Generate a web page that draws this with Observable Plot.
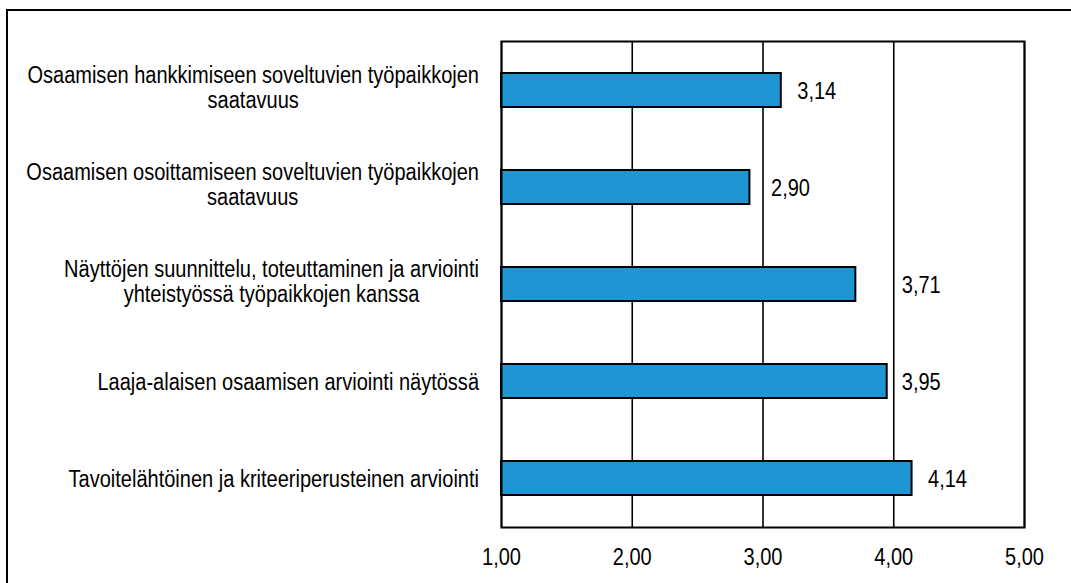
<!DOCTYPE html>
<html><head><meta charset="utf-8">
<script src="https://cdn.jsdelivr.net/npm/d3@7"></script>
<script src="https://cdn.jsdelivr.net/npm/@observablehq/plot@0.6"></script>
<style>
body{margin:0;background:#fff;}
#wrap{position:relative;width:1071px;height:583px;overflow:hidden;background:#fff;}
#border{position:absolute;left:6px;top:9px;width:2000px;height:2000px;border:2px solid #000;box-sizing:border-box;pointer-events:none;}
</style></head><body><div id="wrap"><div id="chart"></div><div id="border"></div></div>
<script>
const categories = [
  "Osaamisen hankkimiseen soveltuvien työpaikkojen\nsaatavuus",
  "Osaamisen osoittamiseen soveltuvien työpaikkojen\nsaatavuus",
  "Näyttöjen suunnittelu, toteuttaminen ja arviointi\nyhteistyössä työpaikkojen kanssa",
  "Laaja-alaisen osaamisen arviointi näytössä",
  "Tavoitelähtöinen ja kriteeriperusteinen arviointi"
];
const values = [3.14, 2.90, 3.71, 3.95, 4.14];
const valueLabels = ["3,14", "2,90", "3,71", "3,95", "4,14"];
const xTicks = [1, 2, 3, 4, 5];
const xTickLabels = ["1,00", "2,00", "3,00", "4,00", "5,00"];

const FONT = '"Liberation Sans", Arial, sans-serif';
const FS = 23;
const NARROW = 0.87; // horizontal condensing of glyphs (Arial Narrow look)
const W = 1071, H = 583, ML = 501, MR = 47, MT = 41, MB = 56;
const xDomain = [xTicks[0], xTicks[xTicks.length - 1]];
const pxPerUnit = (W - ML - MR) / (xDomain[1] - xDomain[0]);

const ctx = document.createElement("canvas").getContext("2d");
ctx.font = `${FS}px ${FONT}`;
const measure = s => ctx.measureText(s).width * NARROW;

const data = categories.map((c, i) => {
  const lbl = valueLabels[i];
  const w = measure(lbl);
  const endPx = (values[i] - xDomain[0]) * pxPerUnit;
  let startPx = endPx + 16;
  for (const t of xTicks.slice(1, -1)) {
    const gx = (t - xDomain[0]) * pxPerUnit;
    if (gx > endPx && gx < endPx + 16 + w) startPx = gx + 8;
  }
  return {
    cat: c,
    value: values[i],
    vlabel: lbl,
    labelX: xDomain[0] + startPx / pxPerUnit,
    blockW: Math.max(...c.split("\n").map(measure)),
    multi: c.includes("\n")
  };
});

const catMarks = data.map(d => Plot.text([d], {
  x: () => xDomain[0], y: "cat", text: "cat",
  textAnchor: "middle", lineAnchor: "middle", lineHeight: 1.1,
  dx: -(22.5 + d.blockW / 2), dy: d.multi ? -3 : 0,
  fontSize: FS, fontFamily: FONT, fill: "#000"
}));

const chart = Plot.plot({
  width: W, height: H,
  marginLeft: ML, marginRight: MR, marginTop: MT, marginBottom: MB,
  style: {fontFamily: FONT, fontSize: FS + "px", background: "transparent", color: "#000", overflow: "visible"},
  x: {domain: xDomain, axis: null},
  y: {domain: categories, paddingInner: 0.65, paddingOuter: 0.325, axis: null},
  marks: [
    Plot.gridX(xTicks, {stroke: "#000", strokeOpacity: 1, strokeWidth: 1.6}),
    Plot.barX(data, {y: "cat", x1: () => xDomain[0], x2: "value", fill: "#1f95d3", stroke: "#000", strokeWidth: 2}),
    Plot.text(data, {y: "cat", x: "labelX", text: "vlabel", textAnchor: "start", fontSize: FS, fontFamily: FONT, fill: "#000", dy: 1}),
    ...catMarks,
    Plot.axisX(xTicks, {tickFormat: (d, i) => xTickLabels[i], tickSize: 0, tickPadding: 21, fontSize: FS, fontFamily: FONT, fill: "#000"}),
    Plot.frame({stroke: "#000", strokeWidth: 2})
  ]
});
document.getElementById("chart").appendChild(chart);

// condense glyphs horizontally to mimic the narrow typeface of the original
const condense = el => {
  const len = el.getComputedTextLength();
  if (len > 0) {
    el.setAttribute("textLength", (len * NARROW).toFixed(2));
    el.setAttribute("lengthAdjust", "spacingAndGlyphs");
  }
};
chart.querySelectorAll("text").forEach(t => {
  const spans = t.querySelectorAll("tspan");
  if (spans.length) spans.forEach(condense); else condense(t);
});
</script>
</body></html>
